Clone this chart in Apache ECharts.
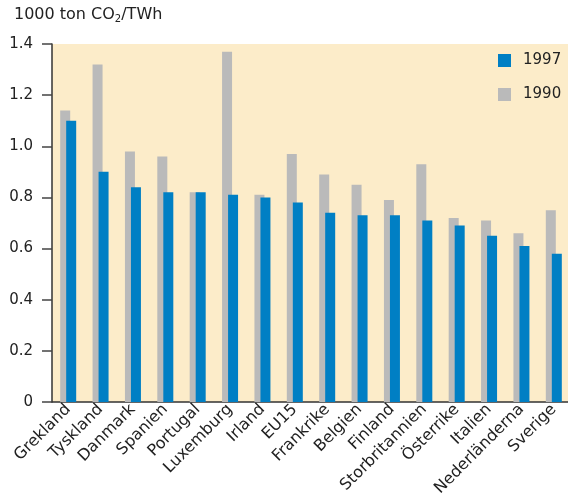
<!DOCTYPE html>
<html>
<head>
<meta charset="utf-8">
<script src="https://cdn.jsdelivr.net/npm/echarts@6/dist/echarts.min.js"></script>
<style>
html, body { margin: 0; padding: 0; background: #fff; }
#main { width: 568px; height: 494px; }
</style>
</head>
<body>
<div id="main"></div>
<script>
var countries = ['Grekland', 'Tyskland', 'Danmark', 'Spanien', 'Portugal', 'Luxemburg', 'Irland', 'EU15',
  'Frankrike', 'Belgien', 'Finland', 'Storbritannien', 'Österrike', 'Italien', 'Nederländerna', 'Sverige'];
var values1990 = [1.14, 1.32, 0.98, 0.96, 0.82, 1.37, 0.81, 0.97, 0.89, 0.85, 0.79, 0.93, 0.72, 0.71, 0.66, 0.75];
var values1997 = [1.10, 0.90, 0.84, 0.82, 0.82, 0.81, 0.80, 0.78, 0.74, 0.73, 0.73, 0.71, 0.69, 0.65, 0.61, 0.58];

var myChart = echarts.init(document.getElementById('main'));
var font = 'DejaVu Sans';

var option = {
  backgroundColor: '#fff',
  animation: false,
  title: {
    text: '1000 ton CO{sub|2}/TWh',
    left: 9,
    top: 1,
    textStyle: {
      fontFamily: font,
      fontSize: 16,
      fontWeight: 'normal',
      color: '#222',
      rich: {
        sub: { fontFamily: font, fontSize: 10, color: '#222', verticalAlign: 'bottom', padding: [8, 0, 0, 0] }
      }
    }
  },
  legend: {
    data: ['1997', '1990'],
    orient: 'vertical',
    left: 493,
    top: 48,
    itemWidth: 13,
    itemHeight: 13,
    itemGap: 19,
    icon: 'rect',
    textStyle: { fontFamily: font, fontSize: 15, color: '#222', padding: [0, 0, 0, 7] }
  },
  grid: { left: 52, right: -2, top: 44, bottom: 92, containLabel: false, outerBoundsMode: 'none' },
  xAxis: {
    type: 'category',
    data: countries,
    axisLine: { lineStyle: { color: '#333', width: 1.5 } },
    axisTick: { length: 8, lineStyle: { color: '#333' } },
    axisLabel: {
      rotate: 45,
      interval: 0,
      margin: 5,
      fontFamily: font,
      fontSize: 16,
      color: '#222'
    }
  },
  yAxis: {
    type: 'value',
    min: 0,
    max: 1.4,
    interval: 0.2,
    axisLine: { show: true, lineStyle: { color: '#333', width: 1.5 } },
    axisTick: { show: true, length: 10, lineStyle: { color: '#444', width: 1.5 } },
    splitLine: { show: false },
    axisLabel: {
      margin: 19,
      fontFamily: font,
      fontSize: 15,
      color: '#222',
      formatter: function (v) { return v === 0 ? '0' : v.toFixed(1); }
    }
  },
  series: [
    {
      name: '1990',
      type: 'bar',
      data: values1990,
      barWidth: 10,
      barGap: '-40%',
      itemStyle: { color: '#bababa' }
    },
    {
      name: '1997',
      type: 'bar',
      data: values1997,
      barWidth: 10,
      itemStyle: { color: '#007fc4' }
    }
  ]
};
myChart.setOption(option);

// yellow plot background behind the bars
var rect = myChart.getModel().getComponent('grid').coordinateSystem.getRect();
myChart.setOption({
  graphic: [{
    type: 'rect',
    z: -10,
    silent: true,
    shape: { x: rect.x, y: rect.y, width: rect.width, height: rect.height },
    style: { fill: '#fcecc9' }
  }]
});
</script>
</body>
</html>
